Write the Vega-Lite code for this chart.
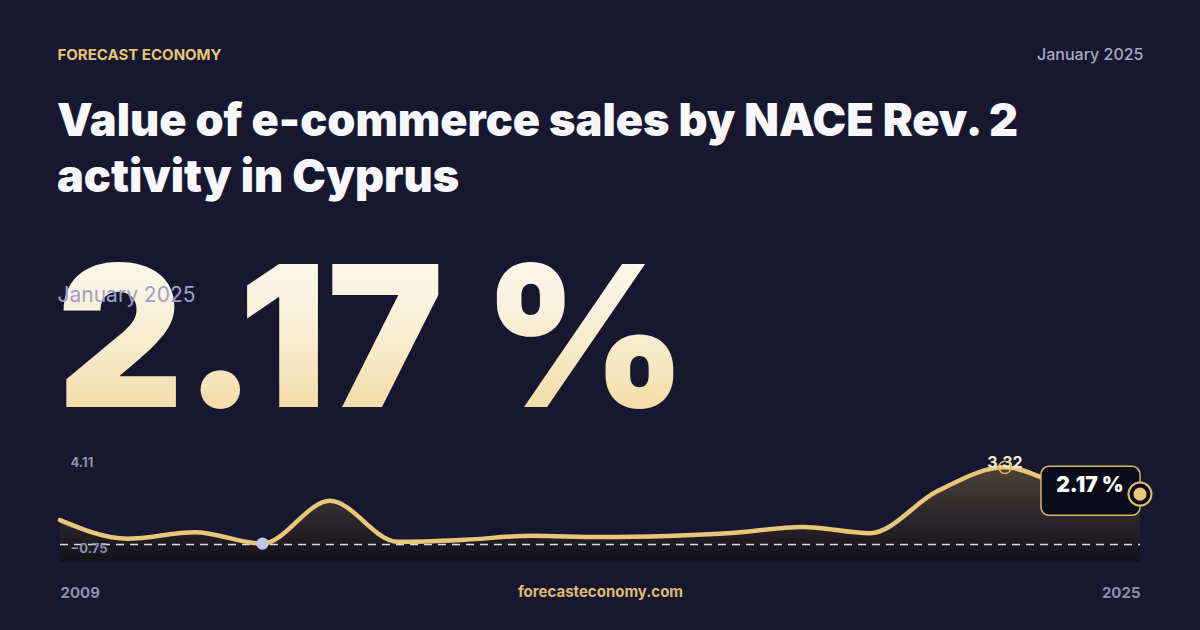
{
  "$schema": "https://vega.github.io/schema/vega-lite/v6.json",
  "width": 1080,
  "height": 113,
  "autosize": {"type": "none"},
  "padding": {"left": 60, "top": 449, "right": 60, "bottom": 68},
  "background": "#171830",
  "config": {
    "view": {"stroke": null},
    "font": "Inter",
    "axis": {"grid": false, "domain": false, "ticks": false, "tickSize": 0, "zindex": 1}
  },
  "title": {
    "text": ["Value of e-commerce sales by NACE Rev. 2", "activity in Cyprus"],
    "subtitle": "2.17 %",
    "anchor": "start",
    "frame": "group",
    "orient": "top",
    "dx": -3,
    "dy": 4,
    "offset": -396,
    "font": "Inter",
    "fontSize": 45,
    "fontWeight": 900,
    "color": "#f8f8fc",
    "lineHeight": 56,
    "subtitleFont": "Inter",
    "subtitleFontSize": 196,
    "subtitleFontWeight": 900,
    "subtitleColor": {"expr": "{gradient: 'linear', x1: 0, y1: 0, x2: 0, y2: 1, stops: [{offset: 0, color: '#fefdf9'}, {offset: 0.45, color: '#f9efd6'}, {offset: 1, color: '#f2d391'}]}"},
    "subtitlePadding": 51
  },
  "data": {
    "values": [
      {"year": 2009, "value": 1.05},
      {"year": 2010, "value": 0.25},
      {"year": 2011, "value": 0.53},
      {"year": 2012, "value": 0.04},
      {"year": 2013, "value": 1.88},
      {"year": 2014, "value": 0.12},
      {"year": 2015, "value": 0.21},
      {"year": 2016, "value": 0.38},
      {"year": 2017, "value": 0.32},
      {"year": 2018, "value": 0.37},
      {"year": 2019, "value": 0.51},
      {"year": 2020, "value": 0.76},
      {"year": 2021, "value": 0.49},
      {"year": 2022, "value": 2.3},
      {"year": 2023, "value": 3.32},
      {"year": 2024, "value": 2.42},
      {"year": 2025, "value": 2.17}
    ]
  },
  "layer": [
    {
      "encoding": {
        "x": {
          "field": "year",
          "type": "quantitative",
          "scale": {"domain": [2009, 2025], "nice": false, "zero": false},
          "axis": {
            "orient": "bottom",
            "values": [2009, 2025],
            "format": "d",
            "labelFlush": true,
            "labelPadding": 35,
            "labelBaseline": "alphabetic",
            "labelFont": "Inter",
            "labelFontSize": 15,
            "labelFontWeight": 700,
            "labelColor": "#8c8fb2",
            "title": "forecasteconomy.com",
            "titleX": 540,
            "titleY": 34,
            "titleAlign": "center",
            "titleBaseline": "alphabetic",
            "titleFont": "Inter",
            "titleFontSize": 15,
            "titleFontWeight": 700,
            "titleColor": "#dcbb73",
            "zindex": 1
          }
        },
        "y": {
          "field": "value",
          "type": "quantitative",
          "scale": {"domain": [-0.75, 4.11], "nice": false, "zero": false},
          "axis": {
            "orient": "left",
            "values": [4.11, -0.75],
            "format": ".2f",
            "labelAlign": "left",
            "labelPadding": -10,
            "labelFlush": true,
            "labelFlushOffset": -7,
            "labelOverlap": false,
            "labelFont": "Inter",
            "labelFontSize": 13,
            "labelFontWeight": 700,
            "labelColor": "#8c8fb2",
            "title": "FORECAST ECONOMY",
            "titleAngle": 0,
            "titleAlign": "left",
            "titleBaseline": "alphabetic",
            "titleX": -3,
            "titleY": -390,
            "titleFont": "Inter",
            "titleFontSize": 15,
            "titleFontWeight": 700,
            "titleColor": "#e6c476",
            "zindex": 3
          }
        }
      },
      "layer": [
        {
          "mark": {
            "type": "area",
            "interpolate": "monotone",
            "color": {
              "gradient": "linear",
              "x1": 0, "y1": 0, "x2": 0, "y2": 1,
              "stops": [
                {"offset": 0, "color": "#4b4137"},
                {"offset": 0.6, "color": "#272329"},
                {"offset": 1, "color": "#141219"}
              ]
            }
          },
          "encoding": {"y2": {"datum": -0.75}}
        },
        {
          "transform": [{"filter": "datum.year == 2009"}],
          "mark": {"type": "rule", "color": "#ffffff", "opacity": 0.85, "strokeWidth": 1.5, "strokeDash": [8, 6]},
          "encoding": {
            "y": {"datum": 0},
            "x": {"datum": 2009},
            "x2": {"datum": 2025}
          }
        },
        {
          "mark": {"type": "line", "interpolate": "monotone", "color": "#e8c67a", "strokeWidth": 4.5, "strokeCap": "round", "strokeJoin": "round"}
        },
        {
          "transform": [{"filter": "datum.year == 2023"}],
          "mark": {"type": "text", "align": "center", "baseline": "alphabetic", "dy": 1, "font": "Inter", "fontSize": 16, "fontWeight": 700, "color": "#f1e9d6"},
          "encoding": {"text": {"field": "value", "type": "quantitative", "format": ".2f"}}
        },
        {
          "transform": [{"filter": "datum.year == 2023"}],
          "mark": {"type": "point", "shape": "circle", "filled": false, "size": 150, "stroke": "#e0bd6c", "strokeWidth": 1.5, "opacity": 1}
        },
        {
          "transform": [{"filter": "datum.year == 2025"}],
          "mark": {"type": "rect", "width": 99, "height": 49, "xOffset": -49.5, "yOffset": -3.3, "cornerRadius": 8, "fill": "#0b0c19", "stroke": "#d9b567", "strokeWidth": 1.5}
        },
        {
          "transform": [{"filter": "datum.year == 2025"}],
          "mark": {"type": "text", "align": "center", "baseline": "alphabetic", "dx": -50, "dy": -2, "font": "Inter", "fontSize": 21, "fontWeight": 900, "color": "#ffffff"},
          "encoding": {"text": {"value": "2.17 %"}}
        },
        {
          "transform": [{"filter": "datum.year == 2025"}],
          "mark": {"type": "point", "shape": "circle", "filled": true, "size": 530, "color": "#0b0c19", "stroke": "#e0bd6c", "strokeWidth": 2, "opacity": 1}
        },
        {
          "transform": [{"filter": "datum.year == 2025"}],
          "mark": {"type": "point", "shape": "circle", "filled": true, "size": 170, "color": "#e8c67a", "opacity": 1}
        }
      ]
    },
    {
      "transform": [{"filter": "datum.year == 2012"}],
      "mark": {"type": "point", "shape": "circle", "filled": true, "size": 150, "color": "#c3c6e0", "opacity": 1},
      "encoding": {
        "x": {
          "field": "year",
          "type": "quantitative",
          "scale": {"domain": [2009, 2025], "nice": false, "zero": false},
          "axis": {
            "orient": "top",
            "labels": false,
            "title": "January 2025",
            "titleX": -3,
            "titleY": -148,
            "titleAlign": "left",
            "titleBaseline": "alphabetic",
            "titleFont": "Inter",
            "titleFontSize": 21,
            "titleFontWeight": 400,
            "titleColor": "#9da0c9",
            "zindex": 2
          }
        },
        "y": {
          "field": "value",
          "type": "quantitative",
          "scale": {"domain": [-0.75, 4.11], "nice": false, "zero": false},
          "axis": {
            "orient": "right",
            "labels": false,
            "title": "January 2025",
            "titleAngle": 0,
            "titleX": 3,
            "titleY": -390,
            "titleAlign": "right",
            "titleBaseline": "alphabetic",
            "titleFont": "Inter",
            "titleFontSize": 16,
            "titleFontWeight": 500,
            "titleColor": "#a7a9c4",
            "zindex": 2
          }
        }
      }
    }
  ],
  "resolve": {"scale": {"x": "independent", "y": "independent"}}
}
